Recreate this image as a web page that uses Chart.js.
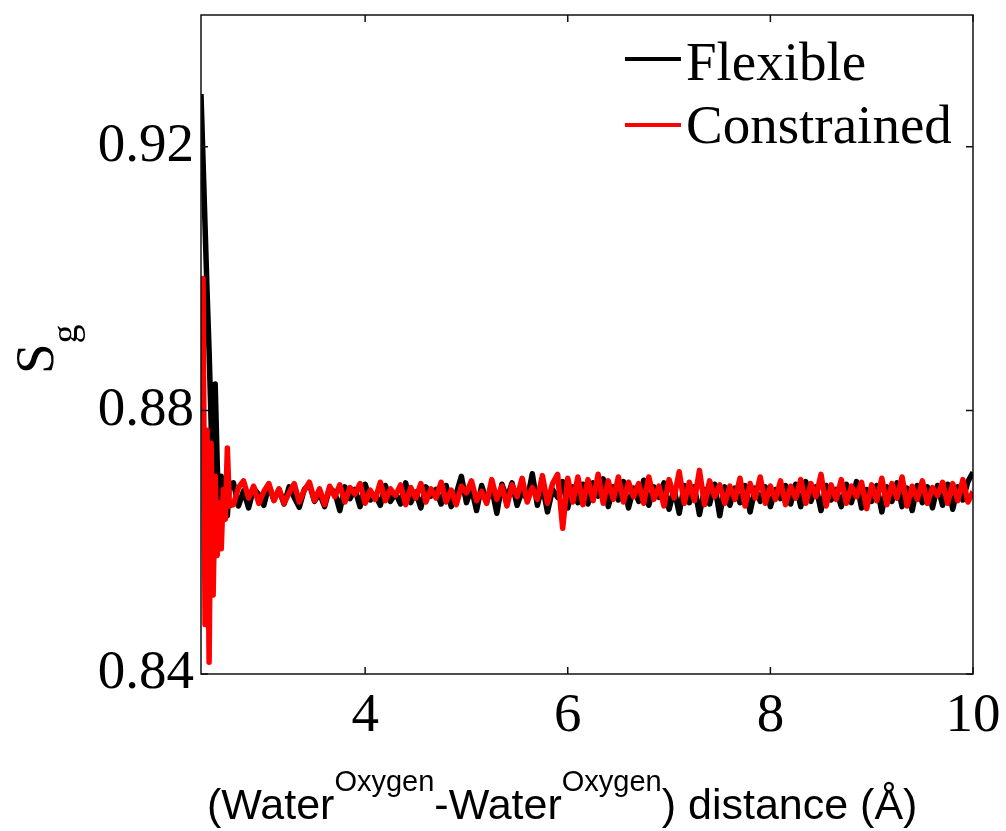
<!DOCTYPE html>
<html>
<head>
<meta charset="utf-8">
<script src="https://cdn.jsdelivr.net/npm/chart.js@4.4.0/dist/chart.umd.min.js"></script>
<style>
  html, body { margin: 0; padding: 0; background: #fff; }
  #wrap { position: relative; width: 1006px; height: 831px; overflow: hidden; }
  canvas { position: absolute; left: 0; top: 0; }
  .ov { position: absolute; white-space: nowrap; color: #000; }
  .serif { font-family: "Liberation Serif", "DejaVu Serif", serif; }
  .sans { font-family: "Liberation Sans", Arial, sans-serif; }
</style>
</head>
<body>
<div id="wrap">
  <canvas id="c" width="1006" height="831"></canvas>
  <div class="ov" style="left:625px;top:57px;width:56px;height:4px;background:#000"></div>
  <div class="ov serif" style="left:686px;top:34px;font-size:55px;line-height:55px">Flexible</div>
  <div class="ov" style="left:625px;top:123px;width:56px;height:4px;background:#f00"></div>
  <div class="ov serif" style="left:686px;top:97px;font-size:55px;line-height:55px">Constrained</div>
  <div class="ov sans" style="left:207px;top:783px;font-size:43px;line-height:43px">(Water<span style="font-size:29px;position:relative;top:-28px">Oxygen</span>-Water<span style="font-size:29px;position:relative;top:-28px">Oxygen</span>) distance (Å)</div>
  <div class="ov serif" style="left:7px;top:374px;font-size:55px;line-height:55px;transform-origin:0 0;transform:rotate(-90deg)">S<span style="font-size:38px;position:relative;top:24px">g</span></div>
</div>
<script>
const distance = [
  2.38,2.40,2.42,2.44,2.46,2.48,2.50,2.52,2.54,2.56,2.58,2.60,2.62,2.64,2.66,
  2.70,2.75,2.80,2.85,2.90,2.95,3.00,3.05,3.10,3.15,
  3.20,3.25,3.30,3.35,3.40,3.45,3.50,3.55,3.60,3.65,
  3.70,3.75,3.80,3.85,3.90,3.95,4.00,4.05,4.10,4.15,
  4.20,4.25,4.30,4.35,4.40,4.45,4.50,4.55,4.60,4.65,
  4.70,4.75,4.80,4.85,4.90,4.95,5.00,5.05,5.10,5.15,
  5.20,5.25,5.30,5.35,5.40,5.45,5.50,5.55,5.60,5.65,
  5.70,5.75,5.80,5.85,5.90,5.95,6.00,6.05,6.10,6.15,
  6.20,6.25,6.30,6.35,6.40,6.45,6.50,6.55,6.60,6.65,
  6.70,6.75,6.80,6.85,6.90,6.95,7.00,7.05,7.10,7.15,
  7.20,7.25,7.30,7.35,7.40,7.45,7.50,7.55,7.60,7.65,
  7.70,7.75,7.80,7.85,7.90,7.95,8.00,8.05,8.10,8.15,
  8.20,8.25,8.30,8.35,8.40,8.45,8.50,8.55,8.60,8.65,
  8.70,8.75,8.80,8.85,8.90,8.95,9.00,9.05,9.10,9.15,
  9.20,9.25,9.30,9.35,9.40,9.45,9.50,9.55,9.60,9.65,
  9.70,9.75,9.80,9.85,9.90,9.95,10.00
];
const flexible = [
  0.928,0.918,0.908,0.898,0.889,0.878,0.855,0.884,0.872,0.862,0.870,0.8635,0.869,0.864,0.8688,
  0.8690,0.8655,0.8678,0.8652,0.8682,0.8672,0.8656,0.8686,0.8664,0.8680,
  0.8658,0.8684,0.8668,0.8653,0.8680,0.8688,0.8662,0.8674,0.8654,0.8682,
  0.8676,0.8648,0.8684,0.8666,0.8680,0.8654,0.8688,0.8664,0.8672,0.8656,
  0.8686,0.8662,0.8674,0.8658,0.8690,0.8660,0.8676,0.8652,0.8684,0.8670,
  0.8680,0.8658,0.8686,0.8654,0.8674,0.8700,0.8660,0.8682,0.8648,0.8686,
  0.8662,0.8682,0.8644,0.8688,0.8666,0.8690,0.8656,0.8678,0.8664,0.8704,
  0.8656,0.8686,0.8646,0.8680,0.8668,0.8692,0.8652,0.8684,0.8660,0.8688,
  0.8658,0.8690,0.8670,0.8696,0.8654,0.8684,0.8664,0.8692,0.8652,0.8682,
  0.8662,0.8694,0.8656,0.8684,0.8668,0.8690,0.8650,0.8680,0.8644,0.8686,
  0.8660,0.8684,0.8642,0.8680,0.8658,0.8688,0.8640,0.8684,0.8656,0.8682,
  0.8660,0.8686,0.8646,0.8682,0.8662,0.8684,0.8654,0.8680,0.8666,0.8686,
  0.8658,0.8688,0.8654,0.8692,0.8662,0.8684,0.8648,0.8686,0.8664,0.8680,
  0.8654,0.8688,0.8660,0.8692,0.8652,0.8680,0.8662,0.8686,0.8646,0.8684,
  0.8662,0.8690,0.8654,0.8682,0.8648,0.8686,0.8660,0.8684,0.8652,0.8686,
  0.8656,0.8688,0.8650,0.8684,0.8664,0.8692,0.8706
];
const constrained = [
  0.885,0.900,0.8475,0.877,0.8418,0.875,0.852,0.870,0.858,0.866,0.859,0.868,0.8635,0.8743,0.8655,
  0.8657,0.8683,0.8693,0.8667,0.8685,0.8659,0.8677,0.8689,0.8663,0.8681,
  0.8659,0.8675,0.8689,0.8661,0.8679,0.8691,0.8663,0.8681,0.8657,0.8685,
  0.8669,0.8687,0.8661,0.8683,0.8673,0.8689,0.8659,0.8679,0.8665,0.8691,
  0.8663,0.8681,0.8671,0.8687,0.8657,0.8683,0.8667,0.8689,0.8661,0.8681,
  0.8667,0.8691,0.8661,0.8679,0.8657,0.8685,0.8675,0.8693,0.8663,0.8677,
  0.8659,0.8695,0.8665,0.8685,0.8655,0.8687,0.8669,0.8697,0.8661,0.8683,
  0.8665,0.8701,0.8659,0.8689,0.8703,0.8621,0.8697,0.8661,0.8699,0.8657,
  0.8695,0.8663,0.8703,0.8659,0.8693,0.8665,0.8699,0.8661,0.8691,0.8669,
  0.8689,0.8659,0.8699,0.8665,0.8685,0.8655,0.8695,0.8667,0.8707,0.8659,
  0.8691,0.8663,0.8709,0.8657,0.8693,0.8669,0.8687,0.8659,0.8685,0.8665,
  0.8697,0.8655,0.8689,0.8667,0.8699,0.8659,0.8685,0.8665,0.8693,0.8657,
  0.8685,0.8667,0.8695,0.8659,0.8689,0.8669,0.8703,0.8655,0.8687,0.8665,
  0.8695,0.8659,0.8685,0.8669,0.8691,0.8651,0.8687,0.8663,0.8697,0.8657,
  0.8689,0.8667,0.8699,0.8655,0.8685,0.8665,0.8693,0.8659,0.8683,0.8671,
  0.8691,0.8659,0.8689,0.8663,0.8695,0.8661,0.8677
];
const xTicks = [4, 6, 8, 10];
const yTicks = [0.84, 0.88, 0.92];
const seriesNames = ['Flexible', 'Constrained'];

const toPts = arr => arr.map((v, i) => ({ x: distance[i], y: v }));

const frameAndTicks = {
  id: 'frameAndTicks',
  afterDatasetsDraw(chart) {
    const { ctx, chartArea: { left, right, top, bottom }, scales: { x, y } } = chart;
    ctx.save();
    ctx.strokeStyle = '#111';
    ctx.lineWidth = 1.5;
    ctx.strokeRect(left, top, right - left, bottom - top);
    ctx.beginPath();
    xTicks.forEach(v => {
      const px = x.getPixelForValue(v);
      ctx.moveTo(px, bottom); ctx.lineTo(px, bottom - 7);
      ctx.moveTo(px, top); ctx.lineTo(px, top + 7);
    });
    yTicks.forEach(v => {
      const py = y.getPixelForValue(v);
      ctx.moveTo(left, py); ctx.lineTo(left + 7, py);
      ctx.moveTo(right, py); ctx.lineTo(right - 7, py);
    });
    ctx.stroke();
    ctx.restore();
  }
};

new Chart(document.getElementById('c'), {
  type: 'line',
  data: {
    datasets: [
      { label: seriesNames[0], data: toPts(flexible), borderColor: '#000', borderWidth: 5.5, pointRadius: 0, tension: 0, borderJoinStyle: 'round', order: 2 },
      { label: seriesNames[1], data: toPts(constrained), borderColor: '#f00', borderWidth: 5.5, pointRadius: 0, tension: 0, borderJoinStyle: 'round', order: 1 }
    ]
  },
  options: {
    responsive: false,
    animation: false,
    layout: { padding: { top: 15, right: 33, left: 0, bottom: 0 } },
    plugins: { legend: { display: false }, tooltip: { enabled: false } },
    scales: {
      x: {
        type: 'linear', min: 2.38, max: 10,
        afterBuildTicks: s => { s.ticks = xTicks.map(v => ({ value: v })); },
        afterFit: s => { s.height = 157; s.paddingLeft = 0; s.paddingRight = 0; },
        grid: { display: false, drawTicks: false },
        border: { display: false },
        ticks: { font: { family: 'Liberation Serif', size: 55 }, color: '#000', padding: 10, maxRotation: 0, autoSkip: false, callback: v => String(v) }
      },
      y: {
        type: 'linear', min: 0.84, max: 0.94,
        afterBuildTicks: s => { s.ticks = yTicks.map(v => ({ value: v })); },
        afterFit: s => { s.width = 201; s.paddingTop = 0; s.paddingBottom = 0; },
        grid: { display: false, drawTicks: false },
        border: { display: false },
        ticks: { font: { family: 'Liberation Serif', size: 55 }, color: '#000', padding: 7, autoSkip: false, callback: v => v.toFixed(2) }
      }
    }
  },
  plugins: [frameAndTicks]
});
</script>
</body>
</html>
